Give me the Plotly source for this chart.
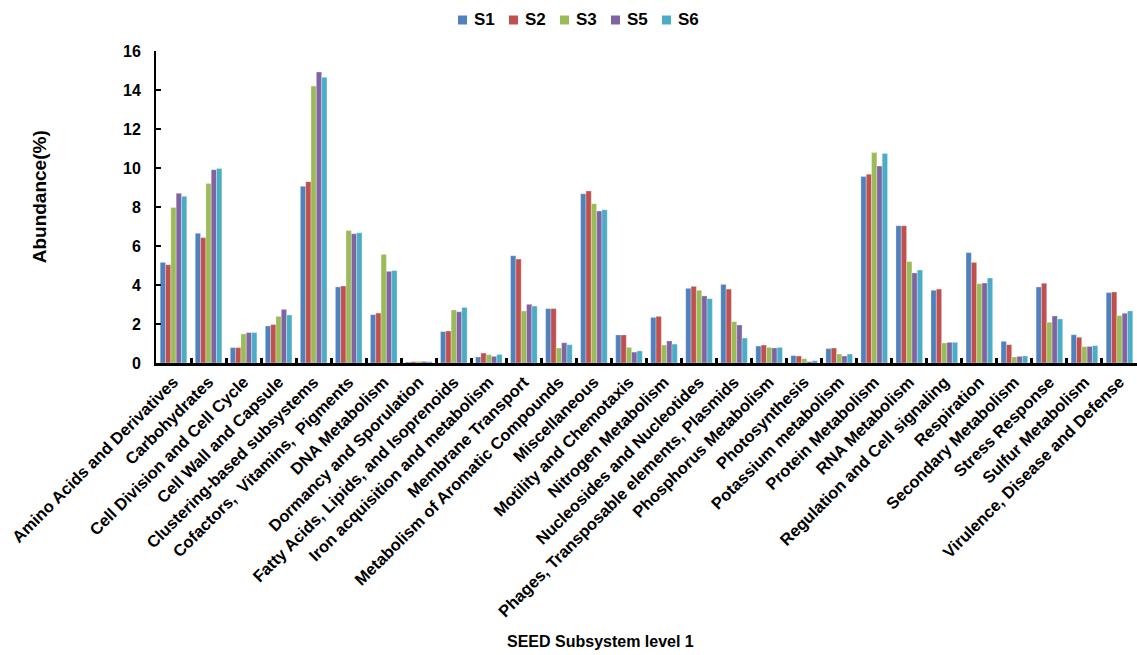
import plotly.graph_objects as go

categories = [
    "Amino Acids and Derivatives", "Carbohydrates", "Cell Division and Cell Cycle",
    "Cell Wall and Capsule", "Clustering-based subsystems", "Cofactors,  Vitamins,  Pigments",
    "DNA Metabolism", "Dormancy and Sporulation", "Fatty Acids, Lipids, and Isoprenoids",
    "Iron acquisition and metabolism", "Membrane Transport", "Metabolism of Aromatic Compounds",
    "Miscellaneous", "Motility and Chemotaxis", "Nitrogen Metabolism",
    "Nucleosides and Nucleotides", "Phages, Transposable elements, Plasmids",
    "Phosphorus Metabolism", "Photosynthesis", "Potassium metabolism", "Protein Metabolism",
    "RNA Metabolism", "Regulation and Cell signaling", "Respiration", "Secondary Metabolism",
    "Stress Response", "Sulfur Metabolism", "Virulence, Disease and Defense",
]

s1 = [5.16, 6.65, 0.79, 1.90, 9.06, 3.90, 2.48, 0.05, 1.61, 0.31, 5.50, 2.79, 8.68, 1.44,
      2.34, 3.83, 4.03, 0.87, 0.38, 0.74, 9.56, 7.04, 3.73, 5.66, 1.11, 3.90, 1.45, 3.61]
s2 = [5.04, 6.43, 0.79, 1.97, 9.30, 3.95, 2.56, 0.07, 1.64, 0.51, 5.33, 2.79, 8.82, 1.44,
      2.39, 3.93, 3.79, 0.92, 0.36, 0.77, 9.68, 7.04, 3.79, 5.16, 0.94, 4.09, 1.32, 3.64]
s3 = [7.97, 9.21, 1.49, 2.39, 14.20, 6.80, 5.57, 0.08, 2.72, 0.43, 2.67, 0.77, 8.17, 0.80,
      0.92, 3.73, 2.12, 0.80, 0.22, 0.46, 10.79, 5.20, 1.03, 4.07, 0.31, 2.09, 0.84, 2.43]
s5 = [8.70, 9.91, 1.56, 2.75, 14.92, 6.63, 4.70, 0.08, 2.63, 0.34, 3.01, 1.04, 7.79, 0.56,
      1.13, 3.44, 1.95, 0.77, 0.07, 0.36, 10.10, 4.62, 1.06, 4.10, 0.34, 2.41, 0.85, 2.55]
s6 = [8.55, 9.97, 1.56, 2.46, 14.65, 6.68, 4.74, 0.07, 2.85, 0.44, 2.92, 0.94, 7.86, 0.62,
      0.97, 3.30, 1.28, 0.80, 0.12, 0.46, 10.75, 4.77, 1.06, 4.36, 0.36, 2.26, 0.89, 2.67]

series = [("S1", s1, "#4F81BD"), ("S2", s2, "#C0504D"), ("S3", s3, "#9BBB59"),
          ("S5", s5, "#8064A2"), ("S6", s6, "#4BACC6")]

FONT = "Liberation Sans, Arial, sans-serif"

# plot area in pixels (used to place the compact legend above the plot)
W, H = 1137, 655
ML, MR, MT, MB = 156, 0, 51, 292
PW, PH = W - ML - MR, H - MT - MB


def px_to_paper(px, py):
    return (px - ML) / PW, (H - MB - py) / PH


fig = go.Figure()
for name, vals, color in series:
    fig.add_trace(go.Bar(
        name=name, x=categories, y=vals, showlegend=False,
        marker=dict(color=color, line=dict(color="rgba(255,255,255,0.6)", width=0.5)),
    ))

# compact legend row: small colour square followed by the series name
shapes, annotations = [], []
LEG_X0, LEG_STEP, LEG_Y, SQ = 458, 51, 20, 9
for i, (name, _, color) in enumerate(series):
    x0 = LEG_X0 + i * LEG_STEP
    ax0, ay0 = px_to_paper(x0, LEG_Y + SQ / 2)
    ax1, ay1 = px_to_paper(x0 + SQ, LEG_Y - SQ / 2)
    shapes.append(dict(type="rect", xref="paper", yref="paper",
                       x0=ax0, x1=ax1, y0=ay0, y1=ay1,
                       fillcolor=color, line=dict(width=0)))
    tx, ty = px_to_paper(x0 + SQ + 5, LEG_Y)
    annotations.append(dict(text=name, xref="paper", yref="paper", x=tx, y=ty,
                            xanchor="left", yanchor="middle", showarrow=False,
                            font=dict(family=FONT, size=17, color="black", weight="bold")))

annotations += [
    dict(text="Abundance(%)", textangle=-90, xref="paper", yref="paper",
         x=-0.119, y=0.532, showarrow=False, xanchor="center", yanchor="middle",
         font=dict(family=FONT, size=19, color="black", weight="bold")),
    dict(text="SEED Subsystem level 1", xref="paper", yref="paper",
         x=0.4536, y=-0.894, showarrow=False, xanchor="center", yanchor="middle",
         font=dict(family=FONT, size=16, color="black", weight="bold")),
]

fig.update_layout(
    width=W, height=H,
    margin=dict(l=ML, r=MR, t=MT, b=MB),
    barmode="group", bargap=0.24, bargroupgap=0,
    plot_bgcolor="white", paper_bgcolor="white",
    font=dict(family=FONT, color="black"),
    showlegend=False,
    xaxis=dict(
        type="category", tickangle=-45, tickson="boundaries",
        ticks="inside", ticklen=5, tickwidth=3, tickcolor="black",
        showline=True, linewidth=3, linecolor="black",
        tickfont=dict(family=FONT, size=16.5, color="black", weight="bold"),
        showgrid=False,
    ),
    yaxis=dict(
        range=[0, 16], dtick=2, ticks="inside", ticklen=5, tickwidth=2,
        tickcolor="black", showline=True, linewidth=2, linecolor="black",
        showgrid=False, zeroline=False,
        tickfont=dict(family=FONT, size=16, color="black", weight="bold"),
        ticklabelstandoff=10,
    ),
    shapes=shapes,
    annotations=annotations,
)

fig.write_html("out.html")
